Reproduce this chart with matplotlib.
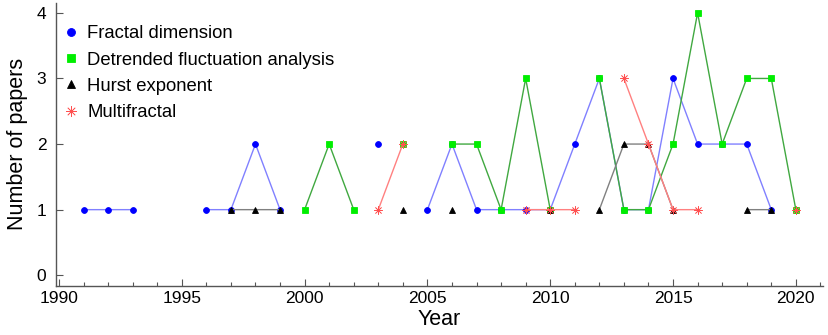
import numpy as np
import matplotlib.pyplot as plt
from matplotlib.ticker import MultipleLocator

plt.rcParams['font.family'] = ['Liberation Sans', 'DejaVu Sans']

# ------------------------------------------------------------
# Data (nan = no paper that year, line breaks there)
# ------------------------------------------------------------
nan = np.nan
years = list(range(1991, 2021))

fractal = [1, 1, 1, nan, nan, 1, 1, 2, 1, nan,
           nan, nan, 2, nan, 1, 2, 1, 1, 1, 1,
           2, 3, 1, 1, 3, 2, 2, 2, 1, nan]
dfa = [nan, nan, nan, nan, nan, nan, nan, nan, nan, 1,
       2, 1, nan, 2, nan, 2, 2, 1, 3, 1,
       nan, 3, 1, 1, 2, 4, 2, 3, 3, 1]
hurst = [nan, nan, nan, nan, nan, nan, 1, 1, 1, nan,
         nan, nan, nan, 1, nan, 1, nan, nan, nan, 1,
         nan, 1, 2, 2, 1, nan, nan, 1, 1, nan]
multifractal = [nan, nan, nan, nan, nan, nan, nan, nan, nan, nan,
                nan, nan, 1, 2, nan, nan, nan, nan, 1, 1,
                1, nan, 3, 2, 1, 1, nan, nan, nan, 1]

labels = ["Fractal dimension", "Detrended fluctuation analysis",
          "Hurst exponent", "Multifractal"]

fig = plt.figure(figsize=(8.29, 3.35), dpi=100)
ax = fig.add_axes([0.0676, 0.147, 0.925, 0.844])

# (values, marker, marker colour, line colour, marker size, edge width)
series = [
    (fractal, "o", "#0000ff", "#8080ff", 4.2, 0.6),
    (dfa, "s", "#00ee00", "#40a840", 4.2, 0.6),
    (hurst, "^", "#000000", "#808080", 4.6, 0.6),
    (multifractal, (8, 2, 0), "#ff5050", "#ff8080", 6.0, 0.5),
]

for (vals, mk, mcol, lcol, ms, mew), lab in zip(series, labels):
    ax.plot(years, vals, color=lcol, linewidth=1.0)
    ax.plot(years, vals, linestyle="none", marker=mk, markersize=ms,
            markerfacecolor=mcol, markeredgecolor=mcol, markeredgewidth=mew)
    ax.plot([], [], linestyle="none", marker=mk, markersize=ms + 1.5,
            markerfacecolor=mcol, markeredgecolor=mcol, markeredgewidth=mew,
            label=lab)

ax.set_xlim(1989.88, 2021.1)
ax.set_ylim(-0.16, 4.15)
ax.xaxis.set_major_locator(MultipleLocator(5))
ax.xaxis.set_minor_locator(MultipleLocator(1))
ax.set_yticks([0, 1, 2, 3, 4])

for s in ["top", "right"]:
    ax.spines[s].set_visible(False)
for s in ["left", "bottom"]:
    ax.spines[s].set_color("#555555")
    ax.spines[s].set_linewidth(1.0)

ax.tick_params(which="major", direction="in", length=5, width=0.8,
               color="#555555", labelsize=12.5)
ax.tick_params(which="minor", direction="in", length=3, width=0.8,
               color="#555555")
ax.tick_params(axis="y", pad=7)
ax.tick_params(axis="x", pad=4)

ax.set_xlabel("Year", fontsize=15.5, labelpad=2)
ax.set_ylabel("Number of papers", fontsize=15.5, labelpad=6)

ax.legend(loc="upper left", frameon=False, fontsize=13.3, handletextpad=0.5,
          handlelength=0.8, labelspacing=0.5, borderaxespad=0.0,
          bbox_to_anchor=(0.0, 0.947))

fig.savefig("out.png", dpi=100)
